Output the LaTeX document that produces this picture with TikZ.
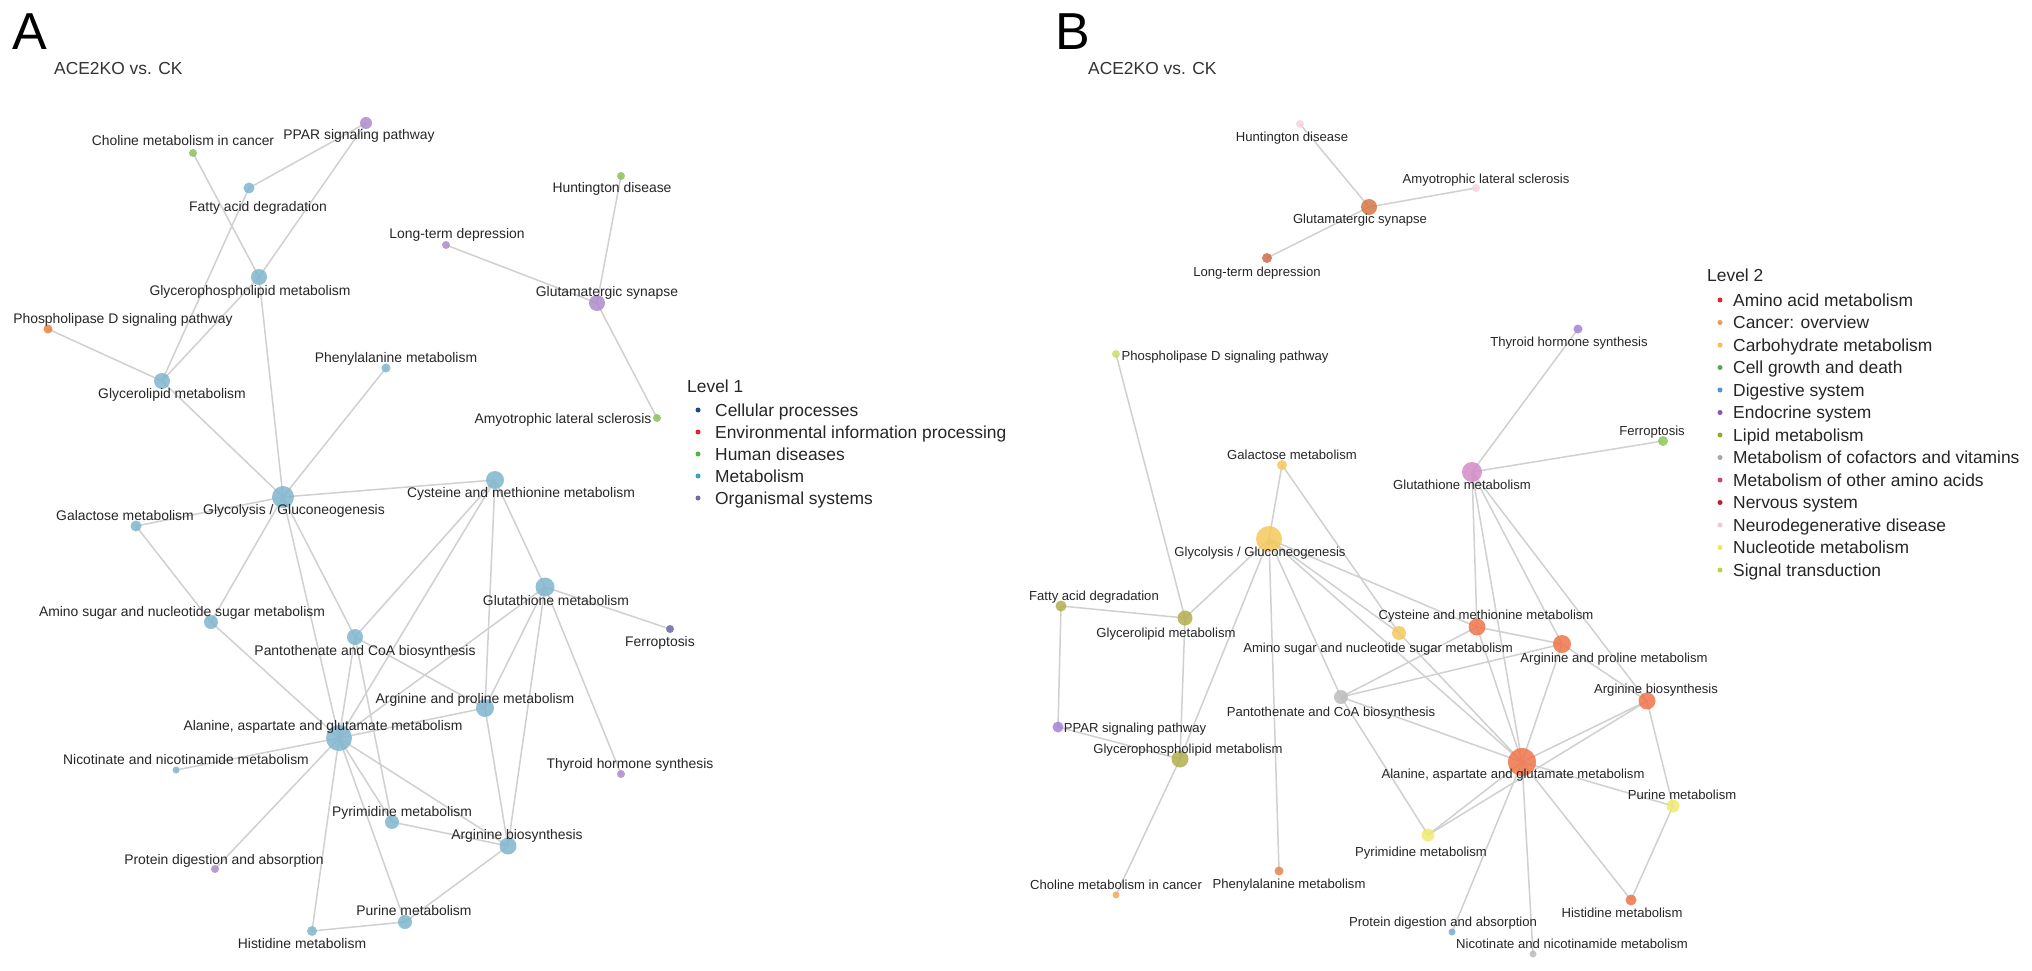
\documentclass[tikz,border=0pt]{standalone}
\usepackage{fontspec}
\setmainfont{Liberation Sans}
\pgfdeclarelayer{back}
\pgfdeclarelayer{bg}
\pgfsetlayers{back,bg,main}
\definecolor{edgegray}{HTML}{D0D0D0}
\definecolor{txt}{HTML}{262626}
\definecolor{ametab}{HTML}{7FB5CE}
\definecolor{ahuman}{HTML}{8CC15C}
\definecolor{aorgan}{HTML}{AD8DCB}
\definecolor{aenv}{HTML}{E8833F}
\definecolor{acell}{HTML}{6A68AC}
\definecolor{lcell}{HTML}{24477F}
\definecolor{lenv}{HTML}{E5202A}
\definecolor{lhuman}{HTML}{55B04E}
\definecolor{lmetab}{HTML}{3A9FCB}
\definecolor{lorgan}{HTML}{7A68A4}
\definecolor{bamino}{HTML}{F2744A}
\definecolor{bnerv}{HTML}{D57744}
\definecolor{bltd}{HTML}{CF6B4F}
\definecolor{bcarb}{HTML}{F5C95C}
\definecolor{blipid}{HTML}{B2AE4E}
\definecolor{bcof}{HTML}{BDBDBD}
\definecolor{bother}{HTML}{D48BC6}
\definecolor{bneuro}{HTML}{F8D3DD}
\definecolor{bnucl}{HTML}{EDEB6E}
\definecolor{bsig}{HTML}{C9DE6C}
\definecolor{bendo}{HTML}{A383D6}
\definecolor{bdig}{HTML}{7EA7DC}
\definecolor{bcellg}{HTML}{8DC55C}
\definecolor{bcancer}{HTML}{F3AA5E}
\definecolor{bphe}{HTML}{E9834E}
\definecolor{kamino}{HTML}{E4262B}
\definecolor{kcancer}{HTML}{EE9B52}
\definecolor{kcarb}{HTML}{F3C246}
\definecolor{kcell}{HTML}{4EAF4A}
\definecolor{kdig}{HTML}{5B8FD4}
\definecolor{kendo}{HTML}{8F4FBF}
\definecolor{klipid}{HTML}{9AA636}
\definecolor{kcof}{HTML}{A6A6A6}
\definecolor{kother}{HTML}{C9477E}
\definecolor{knerv}{HTML}{C21F26}
\definecolor{kneuro}{HTML}{F5C9D4}
\definecolor{knucl}{HTML}{E7EB55}
\definecolor{ksig}{HTML}{B7D43F}
\tikzset{
  edge/.style={draw=edgegray, line width=1.5pt},
  vtx/.style={circle, inner sep=0pt, draw=none, fill opacity=0.85},
  sz/.style={minimum size=#1pt},
  labA/.style={font=\fontsize{13.9}{14}\selectfont, text=txt, inner sep=0pt, anchor=base},
  labB/.style={font=\fontsize{13.1}{14}\selectfont, text=txt, inner sep=0pt, anchor=base},
  legtext/.style={font=\fontsize{17.4}{18}\selectfont, text=txt, inner sep=0pt, anchor=base west},
  bul/.style={circle, inner sep=0pt, minimum size=5pt, draw=none},
  panel/.style={font=\fontsize{52}{52}\selectfont, inner sep=0pt, anchor=base west},
}
\begin{document}
\begin{tikzpicture}[x=1pt,y=-1pt]
\useasboundingbox (0,0) rectangle (2032,971);
\begin{pgfonlayer}{back}
\fill[white] (0,0) rectangle (2032,971);
\end{pgfonlayer}
% ---------------- Panel A ----------------
\node[panel] (aLetter) at (12,50) {A};
\node[legtext, text=black!80] (aTitle) at (54,75) {ACE2KO vs. CK};
% nodes
\node[vtx, fill=aorgan, sz=12] (aPPAR) at (366,123) {};
\node[vtx, fill=ahuman, sz=8] (aChol) at (193,153) {};
\node[vtx, fill=ametab, sz=11] (aFatty) at (249,188) {};
\node[vtx, fill=ahuman, sz=8] (aHunt) at (621,176) {};
\node[vtx, fill=aorgan, sz=8] (aLTD) at (446,245) {};
\node[vtx, fill=ametab, sz=16] (aGPL) at (259,277) {};
\node[vtx, fill=aorgan, sz=16] (aGS) at (597,303) {};
\node[vtx, fill=aenv, sz=9] (aPLD) at (48,329) {};
\node[vtx, fill=ametab, sz=9] (aPhe) at (386,368) {};
\node[vtx, fill=ametab, sz=16] (aGL) at (162,381) {};
\node[vtx, fill=ahuman, sz=8] (aALS) at (657,418) {};
\node[vtx, fill=ametab, sz=22] (aGly) at (283,497) {};
\node[vtx, fill=ametab, sz=18] (aCys) at (495,480) {};
\node[vtx, fill=ametab, sz=11] (aGal) at (136,526) {};
\node[vtx, fill=ametab, sz=19] (aGSH) at (545,587) {};
\node[vtx, fill=acell, sz=8] (aFerr) at (670,629) {};
\node[vtx, fill=ametab, sz=14] (aAmS) at (211,622) {};
\node[vtx, fill=ametab, sz=16] (aPan) at (355,637) {};
\node[vtx, fill=ametab, sz=18] (aAP) at (485,708) {};
\node[vtx, fill=ametab, sz=26] (aAla) at (339,738) {};
\node[vtx, fill=ametab, sz=7] (aNic) at (176,770) {};
\node[vtx, fill=aorgan, sz=8] (aThy) at (621,774) {};
\node[vtx, fill=ametab, sz=14] (aPyr) at (392,822) {};
\node[vtx, fill=ametab, sz=17] (aAB) at (508,846) {};
\node[vtx, fill=aorgan, sz=8] (aProt) at (215,869) {};
\node[vtx, fill=ametab, sz=14] (aPur) at (405,922) {};
\node[vtx, fill=ametab, sz=10] (aHis) at (312,931) {};
% labels
\node[labA] (aPPARl) at (359,140) {PPAR signaling pathway};
\node[labA] (aCholl) at (183,146) {Choline metabolism in cancer};
\node[labA] (aFattyl) at (258,211) {Fatty acid degradation};
\node[labA] (aHuntl) at (612,193) {Huntington disease};
\node[labA] (aLTDl) at (457,238) {Long-term depression};
\node[labA] (aGPLl) at (250,295) {Glycerophospholipid metabolism};
\node[labA] (aGSl) at (607,296) {Glutamatergic synapse};
\node[labA] (aPLDl) at (123,323) {Phospholipase D signaling pathway};
\node[labA] (aPhel) at (396,362) {Phenylalanine metabolism};
\node[labA] (aGLl) at (172,398) {Glycerolipid metabolism};
\node[labA] (aALSl) at (563,423) {Amyotrophic lateral sclerosis};
\node[labA] (aGlyl) at (294,514) {Glycolysis / Gluconeogenesis};
\node[labA] (aCysl) at (521,497) {Cysteine and methionine metabolism};
\node[labA] (aGall) at (125,520) {Galactose metabolism};
\node[labA] (aGSHl) at (556,605) {Glutathione metabolism};
\node[labA] (aFerrl) at (660,646) {Ferroptosis};
\node[labA] (aAmSl) at (182,616) {Amino sugar and nucleotide sugar metabolism};
\node[labA] (aPanl) at (365,655) {Pantothenate and CoA biosynthesis};
\node[labA] (aAPl) at (475,703) {Arginine and proline metabolism};
\node[labA] (aAlal) at (323,730) {Alanine, aspartate and glutamate metabolism};
\node[labA] (aNicl) at (186,764) {Nicotinate and nicotinamide metabolism};
\node[labA] (aThyl) at (630,768) {Thyroid hormone synthesis};
\node[labA] (aPyrl) at (402,816) {Pyrimidine metabolism};
\node[labA] (aABl) at (517,839) {Arginine biosynthesis};
\node[labA] (aProtl) at (224,864) {Protein digestion and absorption};
\node[labA] (aPurl) at (414,915) {Purine metabolism};
\node[labA] (aHisl) at (302,948) {Histidine metabolism};
% legend A
\node[legtext] (aLeg) at (687,392) {Level 1};
\node[bul, fill=lcell] (aK1) at (698,410) {};
\node[legtext] (aK1t) at (715,416) {Cellular processes};
\node[bul, fill=lenv] (aK2) at (698,432) {};
\node[legtext] (aK2t) at (715,438) {Environmental information processing};
\node[bul, fill=lhuman] (aK3) at (698,454) {};
\node[legtext] (aK3t) at (715,460) {Human diseases};
\node[bul, fill=lmetab] (aK4) at (698,476) {};
\node[legtext] (aK4t) at (715,482) {Metabolism};
\node[bul, fill=lorgan] (aK5) at (698,498) {};
\node[legtext] (aK5t) at (715,504) {Organismal systems};
% ---------------- Panel B ----------------
\node[panel] (bLetter) at (1055,50) {B};
\node[legtext, text=black!80] (bTitle) at (1088,75) {ACE2KO vs. CK};
\node[vtx, fill=bneuro, sz=8] (bHunt) at (1300,124) {};
\node[vtx, fill=bneuro, sz=8] (bALS) at (1476,188) {};
\node[vtx, fill=bnerv, sz=16] (bGS) at (1369,207) {};
\node[vtx, fill=bltd, sz=10] (bLTD) at (1267,258) {};
\node[vtx, fill=bendo, sz=9] (bThy) at (1578,329) {};
\node[vtx, fill=bsig, sz=8] (bPLD) at (1116,354) {};
\node[vtx, fill=bcellg, sz=10] (bFerr) at (1663,441) {};
\node[vtx, fill=bcarb, sz=10] (bGal) at (1282,465) {};
\node[vtx, fill=bother, sz=20] (bGSH) at (1472,472) {};
\node[vtx, fill=bcarb, sz=26] (bGly) at (1269,539) {};
\node[vtx, fill=blipid, sz=11] (bFatty) at (1061,606) {};
\node[vtx, fill=blipid, sz=15] (bGL) at (1185,618) {};
\node[vtx, fill=bamino, sz=17] (bCys) at (1477,627) {};
\node[vtx, fill=bcarb, sz=14] (bAmS) at (1399,633) {};
\node[vtx, fill=bamino, sz=18] (bAP) at (1562,644) {};
\node[vtx, fill=bcof, sz=14] (bPan) at (1341,697) {};
\node[vtx, fill=bamino, sz=17] (bAB) at (1647,701) {};
\node[vtx, fill=bendo, sz=11] (bPPAR) at (1058,727) {};
\node[vtx, fill=blipid, sz=17] (bGPL) at (1180,759) {};
\node[vtx, fill=bamino, sz=28] (bAla) at (1522,762) {};
\node[vtx, fill=bnucl, sz=13] (bPur) at (1673,806) {};
\node[vtx, fill=bnucl, sz=13] (bPyr) at (1428,835) {};
\node[vtx, fill=bphe, sz=9] (bPhe) at (1279,871) {};
\node[vtx, fill=bcancer, sz=7] (bChol) at (1116,895) {};
\node[vtx, fill=bamino, sz=11] (bHis) at (1631,900) {};
\node[vtx, fill=bdig, sz=7] (bProt) at (1452,932) {};
\node[vtx, fill=bcof, sz=7] (bNic) at (1533,954) {};
% labels B
\node[labB] (bHuntl) at (1292,142) {Huntington disease};
\node[labB] (bALSl) at (1486,183) {Amyotrophic lateral sclerosis};
\node[labB] (bGSl) at (1360,223) {Glutamatergic synapse};
\node[labB] (bLTDl) at (1257,276) {Long-term depression};
\node[labB] (bThyl) at (1569,346) {Thyroid hormone synthesis};
\node[labB] (bPLDl) at (1225,360) {Phospholipase D signaling pathway};
\node[labB] (bFerrl) at (1652,435) {Ferroptosis};
\node[labB] (bGall) at (1292,459) {Galactose metabolism};
\node[labB] (bGSHl) at (1462,489) {Glutathione metabolism};
\node[labB] (bGlyl) at (1260,556) {Glycolysis / Gluconeogenesis};
\node[labB] (bFattyl) at (1094,600) {Fatty acid degradation};
\node[labB] (bGLl) at (1166,637) {Glycerolipid metabolism};
\node[labB] (bCysl) at (1486,619) {Cysteine and methionine metabolism};
\node[labB] (bAmSl) at (1378,652) {Amino sugar and nucleotide sugar metabolism};
\node[labB] (bAPl) at (1614,662) {Arginine and proline metabolism};
\node[labB] (bABl) at (1656,693) {Arginine biosynthesis};
\node[labB] (bPanl) at (1331,716) {Pantothenate and CoA biosynthesis};
\node[labB] (bPPARl) at (1135,732) {PPAR signaling pathway};
\node[labB] (bGPLl) at (1188,753) {Glycerophospholipid metabolism};
\node[labB] (bAlal) at (1513,778) {Alanine, aspartate and glutamate metabolism};
\node[labB] (bPurl) at (1682,799) {Purine metabolism};
\node[labB] (bPyrl) at (1421,856) {Pyrimidine metabolism};
\node[labB] (bPhel) at (1289,888) {Phenylalanine metabolism};
\node[labB] (bCholl) at (1116,889) {Choline metabolism in cancer};
\node[labB] (bHisl) at (1622,917) {Histidine metabolism};
\node[labB] (bProtl) at (1443,926) {Protein digestion and absorption};
\node[labB] (bNicl) at (1572,948) {Nicotinate and nicotinamide metabolism};
% legend B
\node[legtext] (bLeg) at (1707,281) {Level 2};
\foreach \i/\c/\t in {0/kamino/Amino acid metabolism, 1/kcancer/Cancer: overview, 2/kcarb/Carbohydrate metabolism, 3/kcell/Cell growth and death, 4/kdig/Digestive system, 5/kendo/Endocrine system, 6/klipid/Lipid metabolism, 7/kcof/Metabolism of cofactors and vitamins, 8/kother/Metabolism of other amino acids, 9/knerv/Nervous system, 10/kneuro/Neurodegenerative disease, 11/knucl/Nucleotide metabolism, 12/ksig/Signal transduction}{
  \node[bul, fill=\c] (bK\i) at (1720,300+22.5*\i) {};
  \node[legtext] (bK\i t) at (1733,306+22.5*\i) {\t};
}
% ---------------- Edges ----------------
\begin{pgfonlayer}{bg}
\foreach \p in {a,b}{
  \foreach \u/\v in {PPAR/Fatty, PPAR/GPL, Chol/GPL, Fatty/GL, GPL/GL, GPL/Gly, PLD/GL, GL/Gly, Phe/Gly, Hunt/GS, LTD/GS, GS/ALS, Gly/Cys, Gly/Gal, Gly/AmS, Gly/Pan, Gly/Ala, Gal/AmS, AmS/Ala, Cys/Pan, Cys/Ala, Cys/AP, Cys/GSH, GSH/Ferr, GSH/Thy, GSH/Ala, GSH/AP, GSH/AB, Pan/Ala, Pan/AP, Pan/Pyr, Ala/AP, Ala/Nic, Ala/Prot, Ala/Pyr, Ala/AB, Ala/Pur, Ala/His, AP/AB, Pyr/AB, AB/Pur, Pur/His}{
    \draw[edge] (\p\u.center) -- (\p\v.center);
  }
}
\end{pgfonlayer}
\end{tikzpicture}
\end{document}
